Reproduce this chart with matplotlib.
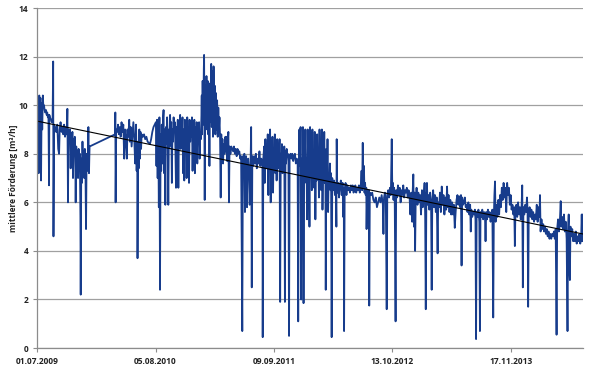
import numpy as np
import matplotlib
matplotlib.use("Agg")
import matplotlib.pyplot as plt
import matplotlib.dates as mdates

# Data: Tage seit 01.07.2009 und mittlere Förderung [m³/h]
tage = [
    0, 2, 3, 5, 7, 9, 11, 13, 15, 17, 19, 21, 23, 25, 27, 30, 32, 34, 36, 38,
    40, 41, 43, 47, 49, 52, 54, 55, 57, 59, 62, 65, 68, 71, 74, 76, 79, 82, 85, 88,
    91, 94, 97, 100, 102, 104, 106, 109, 111, 113, 115, 117, 119, 121, 123, 125, 127, 129, 130, 132,
    134, 136, 138, 140, 142, 144, 146, 147, 149, 151, 153, 155, 157, 159, 161, 163, 165, 167, 169, 171,
    173, 175, 177, 263, 264, 265, 267, 270, 273, 276, 279, 282, 285, 288, 291, 294, 297, 300, 303, 305,
    308, 311, 313, 316, 319, 322, 325, 328, 331, 334, 336, 338, 339, 341, 343, 345, 347, 349, 351, 353,
    357, 361, 365, 369, 373, 377, 381, 385, 389, 393, 397, 401, 403, 405, 407, 409, 411, 413, 415, 417,
    419, 421, 423, 425, 427, 429, 431, 433, 435, 437, 439, 441, 443, 445, 447, 449, 451, 453, 455, 457,
    459, 461, 463, 465, 467, 469, 471, 473, 475, 477, 479, 481, 483, 485, 487, 489, 491, 493, 495, 497,
    499, 501, 503, 505, 507, 509, 511, 513, 515, 517, 519, 521, 523, 525, 527, 529, 531, 533, 535, 537,
    539, 541, 543, 545, 547, 549, 551, 553, 555, 556, 557, 559, 561, 563, 564, 566, 568, 570, 572, 574,
    576, 578, 580, 582, 584, 586, 588, 590, 592, 594, 596, 598, 600, 602, 604, 606, 608, 610, 612, 614,
    616, 618, 620, 622, 624, 626, 628, 630, 633, 636, 638, 640, 642, 644, 646, 648, 650, 653, 656, 659,
    662, 665, 668, 671, 674, 677, 680, 683, 686, 689, 693, 695, 697, 700, 702, 704, 706, 709, 711, 713,
    716, 718, 721, 723, 725, 727, 730, 733, 736, 739, 742, 745, 748, 751, 754, 757, 761, 762, 764, 767,
    769, 771, 773, 775, 777, 779, 781, 783, 785, 787, 789, 791, 793, 795, 797, 799, 801, 803, 805, 807,
    809, 811, 813, 815, 817, 819, 821, 823, 825, 827, 829, 831, 833, 835, 837, 839, 841, 843, 845, 847,
    849, 851, 853, 856, 859, 862, 865, 868, 871, 874, 877, 880, 882, 884, 886, 888, 890, 892, 894, 896,
    898, 900, 902, 904, 906, 908, 910, 912, 914, 916, 918, 920, 922, 924, 926, 928, 930, 932, 934, 936,
    938, 940, 942, 944, 946, 948, 950, 952, 954, 956, 958, 960, 962, 964, 966, 968, 970, 972, 974, 975,
    977, 979, 981, 983, 985, 987, 989, 991, 993, 995, 997, 1000, 1003, 1006, 1009, 1011, 1012, 1014, 1017, 1020,
    1023, 1026, 1029, 1032, 1034, 1036, 1037, 1039, 1042, 1045, 1048, 1051, 1054, 1057, 1060, 1063, 1066, 1069, 1072, 1075,
    1078, 1081, 1084, 1087, 1090, 1093, 1096, 1098, 1100, 1102, 1104, 1106, 1108, 1110, 1112, 1113, 1115, 1118, 1121, 1122,
    1124, 1128, 1132, 1136, 1140, 1144, 1148, 1152, 1156, 1160, 1164, 1168, 1170, 1172, 1175, 1178, 1181, 1183, 1186, 1189,
    1192, 1195, 1198, 1200, 1202, 1204, 1206, 1208, 1211, 1213, 1216, 1219, 1222, 1225, 1228, 1231, 1234, 1237, 1240, 1243,
    1246, 1249, 1252, 1255, 1258, 1261, 1264, 1267, 1269, 1271, 1273, 1275, 1277, 1279, 1282, 1285, 1288, 1291, 1294, 1297,
    1300, 1303, 1306, 1309, 1311, 1313, 1315, 1317, 1319, 1322, 1325, 1328, 1331, 1333, 1335, 1338, 1341, 1344, 1347, 1350,
    1353, 1355, 1358, 1361, 1364, 1367, 1370, 1373, 1376, 1379, 1382, 1385, 1387, 1390, 1393, 1396, 1399, 1402, 1405, 1408,
    1411, 1414, 1417, 1420, 1423, 1426, 1429, 1432, 1434, 1436, 1439, 1442, 1445, 1448, 1451, 1454, 1457, 1460, 1463, 1465,
    1467, 1470, 1473, 1476, 1479, 1481, 1483, 1485, 1488, 1491, 1494, 1496, 1498, 1501, 1504, 1507, 1510, 1513, 1515, 1517,
    1520, 1523, 1526, 1529, 1532, 1535, 1538, 1541, 1543, 1545, 1547, 1549, 1552, 1555, 1558, 1561, 1564, 1567, 1570, 1573,
    1576, 1579, 1582, 1585, 1588, 1591, 1594, 1597, 1600, 1603, 1606, 1609, 1612, 1614, 1616, 1619, 1622, 1625, 1628, 1631,
    1634, 1637, 1639, 1641, 1643, 1646, 1649, 1652, 1655, 1657, 1659, 1661, 1664, 1667, 1670, 1673, 1676, 1679, 1682, 1685,
    1688, 1691, 1694, 1697, 1699, 1701, 1704, 1707, 1710, 1713, 1716, 1719, 1722, 1725, 1728, 1731, 1734, 1737, 1740, 1743,
    1746, 1749, 1752, 1755, 1757, 1760, 1763, 1766, 1769, 1771, 1774, 1777, 1780, 1783, 1786, 1789, 1792, 1794, 1796, 1798,
    1800, 1802, 1805, 1808, 1811, 1814, 1817, 1820, 1823, 1826, 1829, 1832, 1835, 1838, 1840, 1842, 1844, 1845,
]
foerderung = [
    10.2, 9.8, 10.3, 7.2, 10.4, 9.9, 10.3, 6.9, 10.1, 9.0, 10.4, 9.9, 10.0, 9.8, 9.7, 9.8, 9.6, 9.7, 9.5, 9.6,
    6.7, 9.6, 9.5, 9.4, 9.3, 9.4, 11.8, 4.6, 9.2, 8.9, 9.1, 8.9, 9.2, 8.2, 8.0, 9.0, 9.3, 8.9, 9.1, 8.8,
    9.2, 8.7, 9.1, 8.8, 9.85, 6.0, 9.0, 8.6, 9.0, 7.4, 8.8, 8.3, 8.9, 7.0, 8.6, 8.2, 8.7, 7.4, 6.0, 8.3,
    7.3, 8.1, 7.0, 8.2, 7.4, 8.0, 5.4, 2.2, 7.8, 6.8, 8.5, 7.2, 8.1, 7.0, 8.2, 7.4, 4.9, 8.0, 7.3, 7.8,
    9.1, 7.2, 8.3, 8.8, 9.7, 6.0, 9.0, 8.9, 9.2, 8.8, 9.1, 8.7, 9.3, 8.9, 9.2, 7.8, 9.0, 8.6, 7.8, 9.0,
    8.7, 9.4, 8.5, 9.1, 8.3, 8.8, 9.3, 8.6, 7.6, 9.2, 7.3, 8.4, 3.7, 8.5, 7.4, 9.0, 7.8, 8.9, 8.2, 8.8,
    8.7, 8.8, 8.6, 8.7, 8.5, 8.45, 8.4, 8.6, 8.9, 9.1, 9.2, 9.3, 7.5, 9.4, 7.0, 9.3, 5.8, 9.5, 2.4, 8.8,
    7.3, 9.2, 7.6, 9.4, 9.8, 7.2, 9.0, 5.9, 9.1, 8.4, 9.5, 8.6, 5.9, 9.0, 8.3, 9.6, 8.7, 9.3, 6.8, 9.0,
    8.5, 9.5, 8.9, 9.3, 8.2, 6.6, 9.1, 8.5, 9.4, 6.6, 9.0, 8.6, 9.6, 8.2, 9.2, 8.8, 9.5, 7.2, 9.0, 6.9,
    9.4, 8.6, 9.3, 7.0, 9.5, 8.8, 9.1, 6.8, 9.4, 8.5, 9.2, 8.7, 9.5, 7.3, 9.0, 8.7, 9.4, 7.2, 9.1, 8.6,
    9.3, 7.6, 9.0, 8.7, 9.3, 7.8, 8.9, 8.6, 9.6, 10.4, 8.8, 11.0, 9.2, 11.5, 12.07, 6.1, 10.8, 9.0, 11.2, 9.5,
    11.0, 8.8, 10.6, 7.5, 10.9, 9.3, 11.7, 9.1, 11.4, 8.7, 11.6, 9.6, 10.8, 8.8, 10.5, 9.0, 10.2, 8.7, 9.9, 9.0,
    9.5, 8.6, 6.2, 8.8, 8.0, 8.6, 7.6, 8.4, 8.0, 8.7, 8.1, 8.7, 7.7, 8.5, 8.9, 6.0, 8.3, 8.0, 8.3, 8.2,
    8.1, 8.3, 8.0, 8.2, 7.9, 8.2, 8.0, 8.1, 7.8, 7.9, 0.7, 7.9, 7.6, 8.0, 5.6, 7.5, 7.9, 5.8, 7.4, 7.8,
    7.3, 5.9, 7.6, 9.1, 2.5, 7.9, 7.5, 7.9, 7.6, 8.0, 7.4, 7.8, 7.6, 8.1, 7.5, 7.8, 7.7, 0.45, 7.8, 8.3,
    6.8, 8.6, 7.6, 8.2, 7.4, 8.8, 6.3, 8.4, 7.8, 9.0, 6.0, 8.5, 7.5, 8.7, 6.4, 8.1, 7.7, 8.8, 7.2, 8.4,
    6.9, 8.6, 7.8, 8.3, 7.4, 8.6, 1.9, 8.0, 7.5, 8.4, 7.2, 8.2, 7.8, 8.3, 1.9, 8.1, 7.6, 8.2, 7.9, 8.0,
    7.7, 0.5, 7.9, 8.0, 7.8, 8.0, 7.7, 7.9, 8.0, 7.6, 7.8, 7.7, 1.1, 7.6, 9.0, 7.5, 9.1, 2.0, 7.8, 6.2,
    9.1, 1.85, 7.6, 6.8, 9.0, 7.0, 7.8, 5.3, 9.0, 7.2, 7.9, 5.0, 9.1, 7.4, 7.8, 6.5, 9.0, 7.0, 7.7, 6.6,
    8.9, 5.3, 7.6, 6.9, 8.8, 7.5, 7.9, 6.2, 9.0, 7.0, 7.6, 6.5, 9.0, 5.7, 7.4, 7.3, 8.9, 6.8, 7.5, 2.4,
    8.2, 6.6, 8.6, 5.6, 7.2, 6.8, 7.6, 6.5, 7.2, 0.45, 7.0, 6.5, 6.9, 6.3, 6.8, 5.0, 8.6, 6.4, 6.8, 6.2,
    6.7, 6.9, 6.3, 6.8, 5.4, 6.6, 0.7, 6.5, 6.8, 6.3, 6.7, 6.5, 6.6, 6.4, 6.7, 6.5, 6.7, 6.4, 6.5, 6.7,
    6.4, 6.6, 6.5, 6.7, 6.4, 6.6, 7.3, 6.5, 8.45, 6.6, 7.5, 6.4, 6.8, 6.3, 6.6, 4.9, 6.5, 6.4, 6.5, 1.75,
    6.4, 6.3, 6.4, 6.1, 6.0, 6.2, 5.8, 6.0, 6.2, 6.0, 6.3, 5.9, 4.7, 6.2, 6.4, 6.1, 1.6, 6.3, 6.5, 6.2,
    6.6, 6.3, 8.6, 6.4, 6.8, 6.1, 6.6, 6.3, 1.1, 6.5, 6.2, 6.7, 6.3, 6.6, 6.0, 6.5, 6.3, 6.7, 6.2, 6.5,
    6.4, 6.6, 6.2, 6.5, 6.3, 5.5, 6.4, 5.2, 6.5, 7.15, 5.0, 6.4, 4.0, 6.1, 6.6, 5.9, 6.4, 6.0, 6.3, 5.5,
    6.5, 5.8, 6.2, 6.8, 5.4, 1.6, 6.2, 6.8, 5.9, 6.3, 5.7, 6.4, 5.9, 2.4, 6.0, 6.5, 5.8, 6.3, 5.6, 6.2,
    3.9, 6.0, 5.8, 6.4, 5.6, 6.65, 5.9, 6.3, 5.5, 6.2, 5.7, 6.65, 5.8, 6.3, 5.6, 6.1, 5.5, 6.0, 5.5, 5.9,
    4.95, 5.6, 6.1, 6.3, 5.9, 6.25, 5.8, 6.3, 3.4, 6.2, 5.9, 6.0, 6.2, 5.8, 5.9, 5.6, 6.0, 5.5, 5.9, 4.8,
    5.7, 5.4, 5.6, 5.5, 5.7, 5.3, 0.37, 5.6, 5.4, 5.7, 5.2, 0.7, 5.6, 5.4, 5.7, 5.3, 5.6, 5.5, 4.4, 5.6,
    5.3, 5.7, 5.4, 5.6, 5.2, 5.5, 5.7, 1.26, 5.4, 6.3, 6.86, 5.2, 5.9, 5.4, 6.1, 5.5, 6.3, 5.8, 6.6, 6.1,
    6.8, 6.2, 6.6, 5.6, 6.8, 6.3, 6.6, 5.9, 6.3, 5.7, 5.9, 5.5, 5.8, 4.2, 5.6, 5.9, 5.4, 6.0, 5.5, 5.8,
    5.3, 5.9, 6.7, 2.5, 5.8, 5.5, 5.9, 5.6, 6.2, 5.7, 1.7, 5.6, 5.8, 5.4, 5.7, 5.3, 5.6, 5.2, 5.5, 5.3,
    5.9, 5.2, 5.8, 5.4, 6.3, 4.8, 5.3, 4.9, 5.1, 4.8, 5.0, 4.7, 4.9, 4.6, 4.8, 4.5, 4.7, 4.5, 4.7, 4.6,
    4.8, 4.5, 4.9, 0.55, 4.9, 5.3, 4.8, 5.2, 6.05, 5.0, 5.4, 4.9, 5.5, 4.8, 5.2, 4.5, 0.7, 4.9, 5.5, 3.3,
    2.8, 5.0, 4.6, 4.9, 4.4, 4.7, 4.4, 4.8, 4.3, 4.6, 4.4, 4.7, 4.3, 4.5, 5.5, 4.4, 5.5, 5.4,
]

start = np.datetime64("2009-07-01")
daten = start + np.array(tage).astype("timedelta64[D]")
y = np.array(foerderung)

# linearer Trend
coeffs = np.polyfit(np.array(tage), y, 1)
trend = np.polyval(coeffs, np.array(tage))
print(len(tage), len(foerderung), coeffs, trend[0], trend[-1])

plt.rcParams["font.family"] = ["Open Sans", "DejaVu Sans"]

fig = plt.figure(figsize=(6, 3.66), dpi=100)
ax = fig.add_axes([0.062, 0.049, 0.910, 0.929])

ax.plot(daten, y, color="#173c8c", linewidth=1.3)
ax.plot(daten, trend, color="black", linewidth=0.8)

ax.set_ylim(0, 14)
ax.set_yticks(np.arange(0, 15, 2))
ax.set_xlim(start, start + np.timedelta64(1845, "D"))
ax.set_xticks(start + np.arange(0, 1845, 400).astype("timedelta64[D]"))
ax.xaxis.set_major_formatter(mdates.DateFormatter("%d.%m.%Y"))

ax.grid(axis="y", color="#a0a0a0", linewidth=0.9)
ax.set_axisbelow(True)
for s in ["top", "right"]:
    ax.spines[s].set_visible(False)
for s in ["left", "bottom"]:
    ax.spines[s].set_color("#8c8c8c")
    ax.spines[s].set_linewidth(0.9)
ax.tick_params(axis="both", colors="#8c8c8c", length=3, width=0.8,
               labelcolor="#222222", labelsize=6)
for lab in ax.get_xticklabels() + ax.get_yticklabels():
    lab.set_fontweight("bold")

ax.set_ylabel("mittlere Förderung [m³/h]", fontsize=6, fontweight="bold",
              color="#222222")
ax.yaxis.set_label_coords(-0.036, 0.5)

fig.savefig("out.png", dpi=100)
